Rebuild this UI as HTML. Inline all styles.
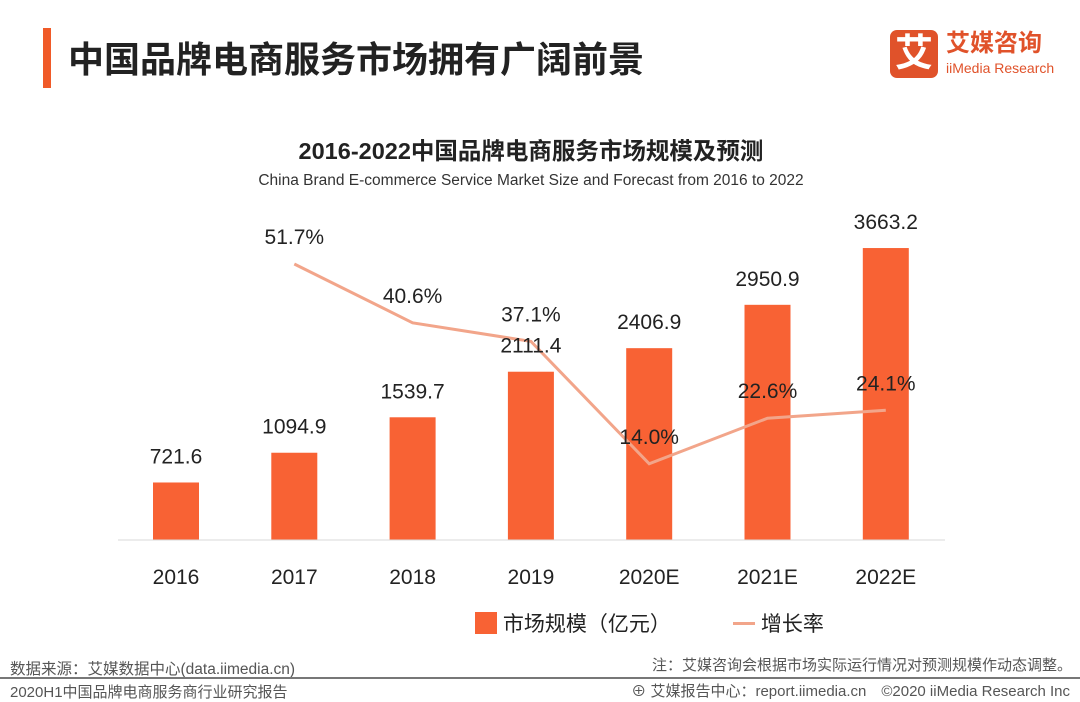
<!DOCTYPE html>
<html><head><meta charset="utf-8"><style>
body{margin:0;width:1080px;height:702px;background:#fff;overflow:hidden;font-family:"Liberation Sans","Noto Sans CJK SC",sans-serif;position:relative}
.a{position:absolute;white-space:nowrap}
</style></head><body>
<div class="a" style="left:43px;top:28px;width:8px;height:60px;background:#f05a28"></div>
<div class="a" style="left:68px;top:31px;font-size:36px;font-weight:bold;color:#222">中国品牌电商服务市场拥有广阔前景</div>
<div class="a" style="left:890px;top:30px;width:170px;height:50px">
 <div class="a" style="left:0;top:0;width:48px;height:48px;background:#e0522a;border-radius:7px;color:#fff;font-size:38px;font-weight:bold;text-align:center;line-height:48px">艾</div>
 <div class="a" style="left:56px;top:0;font-size:24px;font-weight:bold;color:#e0522a;line-height:28px">艾媒咨询</div>
 <div class="a" style="left:56px;top:30px;font-size:14px;color:#e0522a">iiMedia Research</div>
</div>
<div class="a" style="left:0;width:1062px;text-align:center;top:132px;font-size:23.5px;font-weight:bold;color:#222">2016-2022中国品牌电商服务市场规模及预测</div>
<div class="a" style="left:0;width:1062px;text-align:center;top:172px;font-size:15.5px;color:#333">China Brand E-commerce Service Market Size and Forecast from 2016 to 2022</div>
<svg class="a" style="left:0;top:0" width="1080" height="702">
<g id="bars"></g><g id="line"></g><g id="labels"></g>
<line x1="118" y1="540" x2="945" y2="540" stroke="#d9d9d9" stroke-width="1"/>
</svg>
<div class="a" style="left:475px;top:608px;font-size:21px;color:#222">
 <span style="display:inline-block;width:22px;height:22px;background:#f86234;vertical-align:-3px"></span> 市场规模（亿元）
</div>
<div class="a" style="left:733px;top:608px;font-size:21px;color:#222">
 <span style="display:inline-block;width:22px;height:3px;background:#f2a58a;vertical-align:6px"></span> 增长率
</div>
<div class="a" style="left:10px;top:657px;font-size:15.5px;color:#555">数据来源：艾媒数据中心(data.iimedia.cn)</div>
<div class="a" style="right:8px;top:654px;font-size:15px;color:#555">注：艾媒咨询会根据市场实际运行情况对预测规模作动态调整。</div>
<div class="a" style="left:0;top:677px;width:1080px;height:2px;background:#777"></div>
<div class="a" style="left:10px;top:681px;font-size:15px;color:#555">2020H1中国品牌电商服务商行业研究报告</div>
<div class="a" style="right:10px;top:680px;font-size:15px;color:#555">⊕ 艾媒报告中心：report.iimedia.cn　©2020  iiMedia Research  Inc</div>
<script>
const categories=["2016","2017","2018","2019","2020E","2021E","2022E"];
const marketSize=[721.6,1094.9,1539.7,2111.4,2406.9,2950.9,3663.2];
const growthRate=[null,51.7,40.6,37.1,14.0,22.6,24.1];
const NS="http://www.w3.org/2000/svg";
const x=i=>176+i*118.3;
const yB=v=>540-v*0.0797;
const yL=v=>538-v*5.3;
function mk(t,a,p){const e=document.createElementNS(NS,t);for(const k in a)e.setAttribute(k,a[k]);document.getElementById(p).appendChild(e);return e;}
let pts=[];
categories.forEach((c,i)=>{
 const b=mk("rect",{x:x(i)-23,y:yB(marketSize[i]),width:46,height:540-yB(marketSize[i]),fill:"#f86234"},"bars");
 
 
 const t=mk("text",{x:x(i),y:yB(marketSize[i])-19,"text-anchor":"middle","font-size":21,fill:"#222"},"labels");
 t.textContent=marketSize[i].toFixed(1);
 
 
 const xl=mk("text",{x:x(i),y:584,"text-anchor":"middle","font-size":21,fill:"#222"},"labels");
 xl.textContent=c;
 
 
 if(growthRate[i]!=null){
  pts.push(x(i)+","+yL(growthRate[i]));
  const g=mk("text",{x:x(i),y:yL(growthRate[i])-20,"text-anchor":"middle","font-size":21,fill:"#222"},"labels");
  g.textContent=growthRate[i].toFixed(1)+"%";
  
  
 }
});
const pl=mk("polyline",{points:pts.join(" "),fill:"none",stroke:"#f2a58a","stroke-width":3},"line");


</script>
</body></html>
